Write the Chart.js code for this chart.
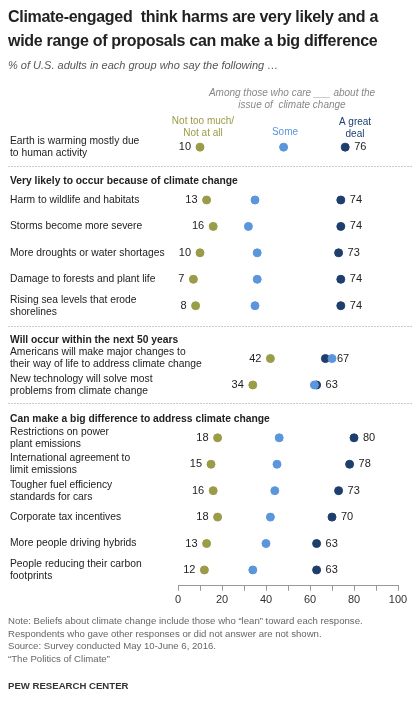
<!DOCTYPE html>
<html><head><meta charset="utf-8">
<script src="https://cdn.jsdelivr.net/npm/chart.js@4"></script>
<style>
body{margin:0;width:420px;height:707px;position:relative;font-family:"Liberation Sans",Arial,sans-serif;background:#fff;overflow:hidden}
#c{position:absolute;left:0;top:0}
.t{position:absolute;left:8px;top:5px;font-size:16px;letter-spacing:-0.3px;font-weight:bold;line-height:24px;color:#222;width:412px;white-space:nowrap}
.s{position:absolute;left:8px;top:59px;font-size:11px;font-style:italic;color:#555}
.n{position:absolute;left:8px;top:615px;font-size:9.6px;line-height:12.6px;color:#666}
.p{position:absolute;left:8px;top:680px;font-size:9.6px;font-weight:bold;color:#333}
</style></head><body>
<canvas id="c" width="420" height="707"></canvas>
<div class="t">Climate-engaged&nbsp; think harms are very likely and a<br>wide range of proposals can make a big difference</div>
<div class="s">% of U.S. adults in each group who say the following …</div>
<div class="n">Note: Beliefs about climate change include those who “lean” toward each response.<br>Respondents who gave other responses or did not answer are not shown.<br>Source: Survey conducted May 10-June 6, 2016.<br>“The Politics of Climate”</div>
<div class="p">PEW RESEARCH CENTER</div>
<script>
const rowLabels=[["Earth is warming mostly due","to human activity"],["Harm to wildlife and habitats"],["Storms become more severe"],["More droughts or water shortages"],["Damage to forests and plant life"],["Rising sea levels that erode","shorelines"],["Americans will make major changes to","their way of life to address climate change"],["New technology will solve most","problems from climate change"],["Restrictions on power","plant emissions"],["International agreement to","limit emissions"],["Tougher fuel efficiency","standards for cars"],["Corporate tax incentives"],["More people driving hybrids"],["People reducing their carbon","footprints"]];
const rowPos=[0,2,3,4,5,6,8,9,11,12,13,14,15,16];
const headers=["Very likely to occur because of climate change","Will occur within the next 50 years","Can make a big difference to address climate change"];
const headerPos=[1.3,7.3,10.3];
const dividerPos=[0.7,6.75,9.7];
const notMuch=[10,13,16,10,7,8,42,34,18,15,16,18,13,12];
const some=[48,35,32,36,36,35,70,62,46,45,44,42,40,34];
const greatDeal=[76,74,74,73,74,74,67,63,80,78,73,70,63,63];
const GREEN="#9a9c48",BLUE="#5b96dc",NAVY="#1e3f6e";
const pts=a=>a.map((v,i)=>({x:v,y:rowPos[i]}));
const labels={id:'lab',afterDraw(ch){
 const c=ch.ctx,x=ch.scales.x,y=ch.scales.y;
 c.save();c.textBaseline='middle';
 c.strokeStyle='#ccc';c.setLineDash([2,1]);c.lineWidth=1;
 dividerPos.forEach(p=>{const py=Math.round(y.getPixelForValue(p))+0.5;c.beginPath();c.moveTo(8,py);c.lineTo(412,py);c.stroke();});
 c.setLineDash([]);
 c.font='10.3px "Liberation Sans",Arial';c.fillStyle='#222';c.textAlign='left';
 rowLabels.forEach((l,i)=>{const py=y.getPixelForValue(rowPos[i]);const off=(l.length-1)*6;l.forEach((s,k)=>c.fillText(s,10,py-off+k*12));});
 c.font='bold 10.3px "Liberation Sans",Arial';
 headers.forEach((h,i)=>c.fillText(h,10,y.getPixelForValue(headerPos[i])));
 c.font='11px "Liberation Sans",Arial';
 notMuch.forEach((v,i)=>{c.textAlign='right';c.fillText(v,x.getPixelForValue(v)-9,y.getPixelForValue(rowPos[i]));});
 greatDeal.forEach((v,i)=>{c.textAlign='left';const m=Math.max(v,some[i]);c.fillText(v,x.getPixelForValue(m)+(m===v?9:5),y.getPixelForValue(rowPos[i]));});
 c.textAlign='center';c.font='italic 10px "Liberation Sans",Arial';c.fillStyle='#888';
 c.fillText('Among those who care ___ about the',292,93);c.fillText('issue of  climate change',292,105);
 c.font='10px "Liberation Sans",Arial';c.fillStyle=GREEN;c.fillText('Not too much/',203,121);c.fillText('Not at all',203,133);
 c.fillStyle=BLUE;c.fillText('Some',285,132);
 c.fillStyle=NAVY;c.fillText('A great',355,122);c.fillText('deal',355,134);
 c.restore();}};
const ds=(d,col)=>({data:pts(d),backgroundColor:col,borderColor:col,pointRadius:4,pointHoverRadius:4});
new Chart(document.getElementById('c'),{type:'scatter',
 data:{datasets:[ds(notMuch,GREEN),ds(some,BLUE),ds(greatDeal,NAVY)]},
 options:{responsive:false,animation:false,events:[],
  layout:{padding:{left:178,right:22,top:126,bottom:97}},
  plugins:{legend:{display:false},tooltip:{enabled:false}},
  scales:{
   y:{display:false,reverse:true,min:-0.8,max:16.6},
   x:{min:0,max:100,border:{color:'#999'},
      grid:{drawOnChartArea:false,tickLength:5,color:'#999'},
      ticks:{stepSize:10,autoSkip:false,maxRotation:0,color:'#333',font:{size:11,family:'"Liberation Sans",Arial'},callback:v=>v%20===0?v:''}}}},
 plugins:[labels]});
</script></body></html>
